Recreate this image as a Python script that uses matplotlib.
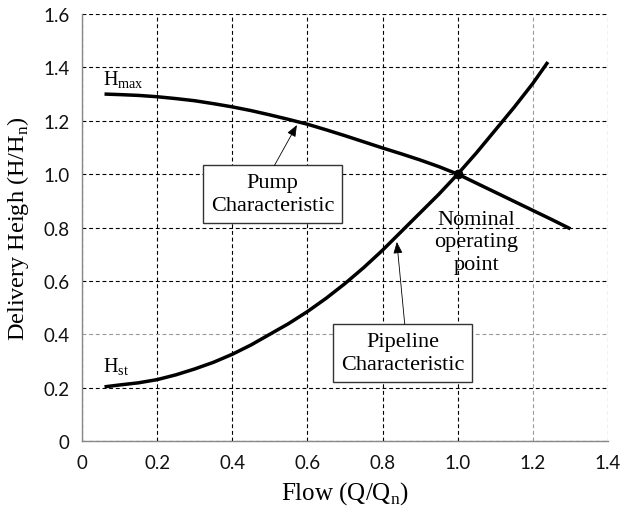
import matplotlib
matplotlib.use("Agg")
import matplotlib.pyplot as plt

# Pump characteristic
pump_q = [0.06, 0.1, 0.15, 0.2, 0.25, 0.3, 0.35, 0.4, 0.45, 0.5, 0.55, 0.6, 0.65,
          0.7, 0.75, 0.8, 0.85, 0.9, 0.95, 1.0, 1.05, 1.1, 1.15, 1.2, 1.25, 1.3]
pump_h = [1.300, 1.298, 1.295, 1.290, 1.283, 1.275, 1.264, 1.252, 1.238, 1.222, 1.205,
          1.187, 1.166, 1.144, 1.121, 1.098, 1.076, 1.053, 1.028, 1.000, 0.966, 0.932,
          0.898, 0.864, 0.830, 0.795]

# Pipeline characteristic
pipe_q = [0.06, 0.1, 0.15, 0.2, 0.25, 0.3, 0.35, 0.4, 0.45, 0.5, 0.55, 0.6, 0.65,
          0.7, 0.75, 0.8, 0.85, 0.9, 0.95, 1.0, 1.05, 1.1, 1.15, 1.2, 1.24]
pipe_h = [0.203, 0.210, 0.218, 0.230, 0.248, 0.270, 0.295, 0.325, 0.360, 0.400, 0.440,
          0.485, 0.535, 0.590, 0.650, 0.715, 0.785, 0.855, 0.925, 1.000, 1.080, 1.165,
          1.250, 1.340, 1.420]

op_q = [1.0]
op_h = [1.0]

xticks = [0, 0.2, 0.4, 0.6, 0.8, 1.0, 1.2, 1.4]
xtick_labels = ["0", "0.2", "0.4", "0.6", "0.8", "1.0", "1.2", "1.4"]
yticks = [0, 0.2, 0.4, 0.6, 0.8, 1.0, 1.2, 1.4, 1.6]
ytick_labels = ["0", "0.2", "0.4", "0.6", "0.8", "1.0", "1.2", "1.4", "1.6"]

serif = ["Liberation Serif", "DejaVu Serif"]
plt.rcParams["mathtext.fontset"] = "custom"
plt.rcParams["mathtext.rm"] = "Liberation Serif"

fig = plt.figure(figsize=(6.22, 5.10), dpi=100)
ax = fig.add_axes([0.1318, 0.1333, 0.8457, 0.8373])

ax.set_xlim(0, 1.4)
ax.set_ylim(0, 1.6)
ax.set_xticks(xticks)
ax.set_xticklabels(xtick_labels)
ax.set_yticks(yticks)
ax.set_yticklabels(ytick_labels)
for lab in ax.get_xticklabels() + ax.get_yticklabels():
    lab.set_fontfamily("Lato")
    lab.set_fontsize(13.5)
    lab.set_color("#111111")

ax.grid(True, color="black", linestyle=(0, (3.5, 2.5)), linewidth=0.8)
# the 1.2 vertical and 0.4 horizontal grid lines appear lighter in the reference
ax.get_xgridlines()[6].set_color("#999999")
ax.get_ygridlines()[2].set_color("#999999")
ax.set_axisbelow(True)
for s in ["top", "right"]:
    ax.spines[s].set_visible(False)
for s in ["left", "bottom"]:
    ax.spines[s].set_color("#888888")
    ax.spines[s].set_linewidth(1.0)
ax.tick_params(axis="both", which="both", length=0, pad=9)

ax.plot(pump_q, pump_h, color="black", linewidth=2.5, solid_capstyle="butt",
        solid_joinstyle="round", zorder=3)
ax.plot(pipe_q, pipe_h, color="black", linewidth=2.5, solid_capstyle="butt",
        solid_joinstyle="round", zorder=3)
ax.plot(op_q, op_h, marker="o", linestyle="none", color="black", markersize=6, zorder=4)

ax.set_xlabel(r"Flow (Q/Q$_\mathregular{n}$)", fontfamily=serif, fontsize=18)
ax.xaxis.set_label_coords(0.5, -0.09)
ax.set_ylabel(r"Delivery Heigh (H/H$_\mathregular{n}$)", fontfamily=serif, fontsize=17.5)
ax.yaxis.set_label_coords(-0.096, 0.5)

ax.text(0.055, 1.355, r"H$_\mathregular{max}$", fontfamily=serif, fontsize=14.5,
        va="center", ha="left")
ax.text(0.055, 0.278, r"H$_\mathregular{st}$", fontfamily=serif, fontsize=14.5,
        va="center", ha="left")

boxprops = dict(boxstyle="square,pad=0.36", facecolor="white", edgecolor="#333333",
                linewidth=1.0)
ax.text(0.507, 0.927, "Pump\nCharacteristic", fontfamily=serif, fontsize=16,
        ha="center", va="center", linespacing=1.3, bbox=boxprops, zorder=5)
ax.text(0.853, 0.33, "Pipeline\nCharacteristic", fontfamily=serif, fontsize=16,
        ha="center", va="center", linespacing=1.3, bbox=boxprops, zorder=5)
ax.text(1.05, 0.746, "Nominal\noperating\npoint", fontfamily=serif, fontsize=16,
        ha="center", va="center", linespacing=1.25, zorder=5)

arrowprops = dict(arrowstyle="-|>,head_length=0.7,head_width=0.28", color="black",
                  linewidth=0.6, shrinkA=0, shrinkB=0)
ax.annotate("", xy=(0.572, 1.184), xytext=(0.512, 1.032), arrowprops=arrowprops, zorder=6)
ax.annotate("", xy=(0.838, 0.746), xytext=(0.859, 0.438), arrowprops=arrowprops, zorder=6)

fig.savefig("out.png", dpi=100)
